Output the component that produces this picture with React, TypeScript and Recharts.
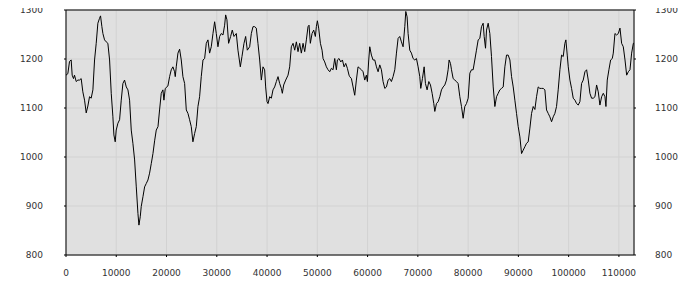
import React from "react";
import { LineChart, Line, XAxis, YAxis, CartesianGrid, ReferenceLine } from "recharts";

const sampleX = [
  0, 365, 700, 1030, 1230, 1490, 1690, 2030, 2360, 2690, 3020, 3350, 3690, 4020, 4350, 4680, 5010, 5350, 5680, 6010,
  6340, 6670, 6870, 7140, 7340, 7670, 8000, 8330, 8670, 9000, 9330, 9530, 9790, 9990, 10330, 10660, 10990, 11320, 11650, 11990,
  12320, 12650, 12980, 13310, 13650, 13980, 14310, 14510, 14770, 14970, 15310, 15640, 15970, 16300, 16630, 16970, 17300, 17630, 17960, 18300,
  18615, 18950, 19280, 19480, 19750, 20275, 20610, 20940, 21270, 21600, 21735, 21935, 22270, 22600, 22930, 23260, 23600, 23930, 24260, 24590,
  24920, 25250, 25590, 25920, 26250, 26580, 26910, 27250, 27580, 27910, 28240, 28570, 28900, 29240, 29570, 29900, 30230, 30560, 30890, 31230,
  31560, 31760, 32020, 32350, 32750, 33080, 33420, 33880, 34210, 34680, 35010, 35410, 35740, 36070, 36540, 36870, 37200, 37530, 37860, 38190,
  38530, 38860, 39190, 39520, 39720, 39990, 40190, 40520, 40850, 41180, 41510, 41850, 42180, 42510, 42840, 43040, 43310, 43710, 44170, 44500,
  44830, 45170, 45500, 45830, 46160, 46490, 46820, 47160, 47490, 47820, 48150, 48350, 48610, 48950, 49280, 49610, 49810, 50010, 50270, 50610,
  50940, 51140, 51470, 51800, 52130, 52470, 52800, 53130, 53460, 53790, 53990, 54320, 54660, 54990, 55320, 55650, 55980, 56310, 56440, 56780,
  57110, 57440, 57770, 58100, 58440, 58770, 59100, 59430, 59760, 59960, 60230, 60430, 60760, 61090, 61430, 61760, 62090, 62420, 62750, 63080,
  63420, 63750, 64080, 64410, 64740, 65070, 65410, 65740, 66070, 66400, 66730, 67060, 67400, 67600, 67860, 68060, 68390, 68720, 69050, 69390,
  69720, 70050, 70380, 70580, 70910, 71250, 71510, 71840, 72180, 72510, 72840, 73170, 73370, 73700, 74040, 74370, 74700, 75030, 75360, 75690,
  76020, 76220, 76490, 76690, 77020, 77350, 77680, 78010, 78350, 78680, 79010, 79340, 79670, 80010, 80340, 80670, 81000, 81330, 81660, 82000,
  82330, 82660, 82990, 83190, 83460, 83660, 83990, 84320, 84650, 84990, 85320, 85650, 85980, 86310, 86650, 86980, 87310, 87640, 87970, 88310,
  88640, 88970, 89300, 89630, 89960, 90300, 90630, 90960, 91290, 91620, 91950, 92290, 92620, 92950, 93280, 93610, 93940, 94270, 94600, 94940,
  95270, 95600, 95930, 96260, 96600, 96930, 97260, 97590, 97920, 98260, 98590, 98920, 99250, 99450, 99720, 99920, 100250, 100580, 100910, 101250,
  101580, 101910, 102240, 102570, 102900, 103240, 103570, 103900, 104230, 104560, 104900, 105230, 105560, 105890, 106220, 106560, 106890, 107220, 107420, 107680,
  108010, 108350, 108680, 108880, 109210, 109540, 109880, 110210, 110540, 110870, 111210, 111540, 111870, 112200, 112530, 112870, 113000,
];

const seriesValues = [
  1167, 1170, 1195, 1198, 1167, 1160, 1167, 1154, 1157, 1157, 1160, 1133, 1116, 1090, 1104, 1123, 1120, 1137, 1198, 1232,
  1273, 1283, 1288, 1266, 1252, 1239, 1235, 1232, 1198, 1130, 1082, 1045, 1031, 1055, 1069, 1076, 1116, 1150, 1157, 1143,
  1137, 1116, 1055, 1028, 994, 939, 885, 861, 878, 899, 919, 939, 946, 953, 967, 987, 1007, 1033, 1055, 1062,
  1096, 1130, 1137, 1116, 1140, 1145, 1164, 1178, 1184, 1174, 1164, 1184, 1212, 1220, 1198, 1164, 1150, 1096, 1089, 1076,
  1062, 1031, 1048, 1062, 1103, 1123, 1164, 1198, 1201, 1232, 1239, 1212, 1225, 1252, 1276, 1252, 1225, 1246, 1252, 1249,
  1269, 1290, 1280, 1232, 1246, 1259, 1246, 1252, 1218, 1184, 1205, 1232, 1246, 1218, 1225, 1252, 1266, 1266, 1263, 1232,
  1198, 1157, 1184, 1178, 1143, 1113, 1109, 1123, 1120, 1137, 1143, 1154, 1164, 1150, 1140, 1130, 1147, 1157, 1167, 1184,
  1225, 1232, 1218, 1235, 1215, 1232, 1212, 1232, 1215, 1239, 1266, 1269, 1232, 1252, 1259, 1246, 1266, 1278, 1263, 1232,
  1218, 1201, 1194, 1184, 1178, 1174, 1181, 1178, 1201, 1178, 1198, 1201, 1194, 1198, 1184, 1191, 1181, 1167, 1164, 1160,
  1143, 1126, 1157, 1184, 1181, 1178, 1174, 1157, 1167, 1154, 1198, 1225, 1208, 1198, 1198, 1184, 1174, 1188, 1178, 1154,
  1140, 1143, 1157, 1160, 1154, 1164, 1178, 1212, 1242, 1246, 1235, 1225, 1266, 1297, 1286, 1252, 1218, 1212, 1201, 1198,
  1201, 1184, 1164, 1140, 1160, 1184, 1150, 1137, 1154, 1147, 1130, 1109, 1093, 1109, 1113, 1123, 1137, 1143, 1147, 1157,
  1178, 1198, 1191, 1178, 1160, 1157, 1154, 1150, 1123, 1103, 1079, 1103, 1109, 1120, 1171, 1178, 1178, 1198, 1218, 1239,
  1242, 1266, 1273, 1246, 1222, 1259, 1273, 1252, 1205, 1143, 1103, 1123, 1130, 1137, 1140, 1143, 1184, 1208, 1208, 1198,
  1164, 1143, 1116, 1089, 1062, 1041, 1007, 1014, 1021, 1028, 1031, 1059, 1089, 1103, 1097, 1123, 1143, 1140, 1140, 1140,
  1137, 1096, 1089, 1082, 1072, 1082, 1089, 1103, 1137, 1178, 1208, 1205, 1232, 1239, 1208, 1184, 1157, 1140, 1120, 1116,
  1109, 1106, 1113, 1150, 1157, 1174, 1178, 1157, 1130, 1120, 1120, 1123, 1147, 1133, 1106, 1123, 1130, 1123, 1103, 1157,
  1178, 1198, 1201, 1212, 1252, 1249, 1252, 1263, 1232, 1225, 1198, 1167, 1174, 1178, 1212, 1232, 1232,
];

const xTicks = [0, 10000, 20000, 30000, 40000, 50000, 60000, 70000, 80000, 90000, 100000, 110000];
const yTicks = [800, 900, 1000, 1100, 1200, 1300];

const data = sampleX.map((x, i) => ({ x, v: seriesValues[i] }));

const tickStyle = { fontFamily: "DejaVu Sans", fontSize: 9, fill: "#333" };

export default function App() {
  return (
    <div style={{ margin: "-8px 0 0 -8px", width: 700, height: 300 }}>
      <LineChart width={700} height={300} data={data} margin={{ top: 10, right: 0, bottom: 0, left: 0 }}>
        <CartesianGrid yAxisId="left" stroke="#d2d2d2" fill="#e0e0e0" fillOpacity={1} />
        <XAxis
          dataKey="x"
          type="number"
          domain={[0, 113000]}
          ticks={xTicks}
          allowDataOverflow
          height={45}
          tick={tickStyle}
          tickSize={2}
          tickMargin={13}
          stroke="#000"
          interval={0}
        />
        <YAxis
          yAxisId="left"
          type="number"
          domain={[800, 1300]}
          ticks={yTicks}
          width={66}
          tick={tickStyle}
          tickSize={2}
          tickMargin={21}
          stroke="#000"
          interval={0}
        />
        <YAxis
          yAxisId="right"
          orientation="right"
          type="number"
          domain={[800, 1300]}
          ticks={yTicks}
          width={66}
          tick={tickStyle}
          tickSize={2}
          tickMargin={19}
          stroke="#000"
          interval={0}
        />
        <ReferenceLine yAxisId="left" y={1300} stroke="#000" strokeWidth={1} />
        <Line
          yAxisId="right"
          type="linear"
          dataKey="v"
          stroke="none"
          strokeWidth={0}
          dot={false}
          legendType="none"
          isAnimationActive={false}
        />
        <Line
          yAxisId="left"
          type="linear"
          dataKey="v"
          stroke="#000"
          strokeWidth={1}
          dot={false}
          isAnimationActive={false}
        />
      </LineChart>
    </div>
  );
}
